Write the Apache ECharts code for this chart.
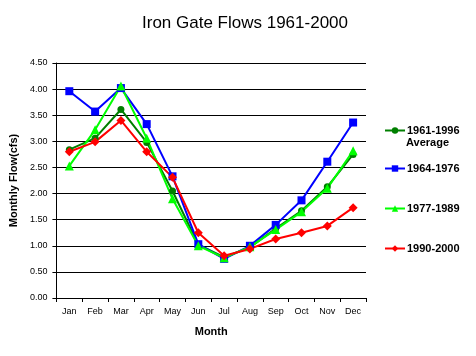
<!DOCTYPE html>
<html><head><meta charset="utf-8">
<script src="https://cdn.jsdelivr.net/npm/echarts@6/dist/echarts.min.js"></script>
<style>html,body{margin:0;padding:0;background:#fff}#c{width:476px;height:356px}</style>
</head><body><div id="c"></div>
<script>
const months = ['Jan','Feb','Mar','Apr','May','Jun','Jul','Aug','Sep','Oct','Nov','Dec'];
const avg6196 = [2.84,3.06,3.61,2.98,2.05,1.02,0.78,0.97,1.33,1.67,2.13,2.75];
const p6476 = [3.96,3.57,4.02,3.33,2.33,1.03,0.75,1.00,1.40,1.87,2.61,3.36];
const p7789 = [2.53,3.22,4.06,3.06,1.90,1.00,0.77,0.98,1.31,1.65,2.10,2.82];
const p9000 = [2.80,2.99,3.40,2.80,2.31,1.25,0.81,0.94,1.13,1.25,1.38,1.73];
const yTicks = [0,0.5,1,1.5,2,2.5,3,3.5,4,4.5];

const F = 'Liberation Sans, Arial, sans-serif';
const chart = echarts.init(document.getElementById('c'), null, {renderer:'canvas'});
function ser(name, data, color, symbol, size){
  return {name, type:'line', data, symbol, symbolSize:size, showAllSymbol:true,
    lineStyle:{color, width:2}, itemStyle:{color}, animation:false};
}
function leg(name, top){
  return {data:[name], left:379, top, orient:'vertical', itemWidth:20, itemHeight:8, itemGap:0,
    textStyle:{fontFamily:F, fontSize:11, fontWeight:'bold', color:'#000', padding:[0,0,0,-3]},
    selectedMode:false};
}
chart.setOption({
  backgroundColor:'#fff',
  animation:false,
  title:{text:'Iron Gate Flows 1961-2000', left:240, textAlign:'center', top:10,
    textStyle:{fontFamily:F, fontSize:17, fontWeight:'normal', color:'#000'}},
  legend:[leg('1961-1996',120), leg('1964-1976',158), leg('1977-1989',198), leg('1990-2000',238)],
  graphic:[{type:'text', left:406, top:137, style:{text:'Average', font:'bold 11px '+F, fill:'#000'}}],
  grid:{left:54, right:110, top:63, bottom:58, containLabel:false},
  xAxis:{type:'category', data:months, boundaryGap:true,
    name:'Month', nameLocation:'middle', nameGap:28,
    nameTextStyle:{fontFamily:F, fontSize:11, fontWeight:'bold', color:'#000'},
    axisLine:{lineStyle:{color:'#000', width:1}},
    axisTick:{show:true, alignWithLabel:false, length:4, lineStyle:{color:'#000'}},
    axisLabel:{fontFamily:F, fontSize:9, color:'#000', margin:9}},
  yAxis:{type:'value', min:0, max:4.5, interval:0.5,
    name:'Monthly Flow(cfs)', nameLocation:'middle', nameGap:27,
    nameTextStyle:{fontFamily:F, fontSize:11, fontWeight:'bold', color:'#000'},
    axisLine:{show:true, lineStyle:{color:'#000', width:1}},
    axisTick:{show:true, length:4, lineStyle:{color:'#000'}},
    axisLabel:{fontFamily:F, fontSize:9, color:'#000', margin:9,
      formatter:v=>yTicks.includes(v)?v.toFixed(2):''},
    splitLine:{show:true, lineStyle:{color:'#000', width:1}}},
  series:[
    ser('1961-1996', avg6196, '#007f00', 'circle', 7),
    ser('1964-1976', p6476, '#0000ff', 'rect', 8),
    ser('1977-1989', p7789, '#00ff00', 'triangle', 9),
    ser('1990-2000', p9000, '#ff0000', 'diamond', 9)
  ]
});
</script></body></html>
